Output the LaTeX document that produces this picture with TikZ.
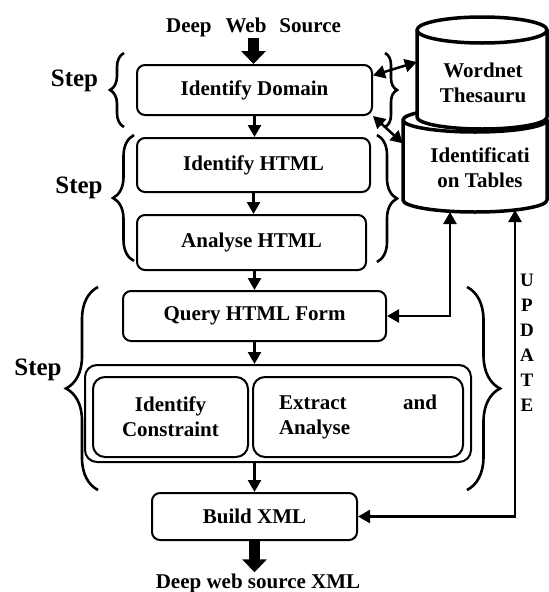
\documentclass[tikz,border=0pt]{standalone}
\usepackage{fontspec}
\setmainfont{Liberation Serif}
\usetikzlibrary{arrows.meta,decorations.pathreplacing,calc}
\begin{document}
\begin{tikzpicture}[x=1pt,y=-1pt,
  font=\bfseries\fontsize{21}{25}\selectfont,
  box/.style={draw, line width=2pt, rounded corners=8pt, align=center, inner sep=0pt},
  txt/.style={inner sep=1pt},
  arr/.style={line width=2.5pt, -{Triangle[width=13pt,length=12pt]}},
  darr/.style={line width=2.5pt, {Triangle[width=13pt,length=12pt]}-{Triangle[width=13pt,length=12pt]}},
  fat/.style={line width=11pt, -{Triangle[width=24pt,length=13pt]}},
  cyl/.style={line width=3.5pt, line join=round},
  curly/.style={decorate, decoration={brace, amplitude=#1}, line width=2.6pt},
  steplbl/.style={inner sep=1pt, font=\bfseries\fontsize{25}{28}\selectfont},
  hid/.style={inner sep=0pt}
]
\fill[white] (0,0) rectangle (549,592);
\useasboundingbox (0,0) rectangle (549,592);

% cylinders
\node[hid, minimum width=144pt, minimum height=80pt] (it) at (475,160) {};
\node[hid, minimum width=130pt, minimum height=87pt] (wn) at (482,73.5) {};
\draw[cyl, fill=white] (403,120) -- (403,200) arc[start angle=180,end angle=360,x radius=72pt,y radius=12pt] -- (547,120) arc[start angle=0,end angle=180,x radius=72pt,y radius=12pt] -- cycle;
\draw[cyl] (403,120) arc[start angle=180,end angle=360,x radius=72pt,y radius=12pt];
\draw[cyl, fill=white] (417,30) -- (417,117) arc[start angle=180,end angle=360,x radius=65pt,y radius=12pt] -- (547,30) arc[start angle=0,end angle=180,x radius=65pt,y radius=13pt] -- cycle;
\draw[cyl] (417,30) arc[start angle=180,end angle=360,x radius=65pt,y radius=13pt];
\node[txt, align=center] (wnt) at (483,82.5) {Wordnet\\Thesauru};
\node[txt, align=center] (itt) at (480,167.5) {Identificati\\on Tables};

% boxes
\node[txt] (src) at (253.5,27) {Deep\hspace{14pt}Web\hspace{13pt}Source};
\node[box, minimum width=235pt, minimum height=50pt] (dom) at (254.5,90) {Identify Domain};
\node[box, minimum width=233pt, minimum height=54pt] (html) at (253.5,165) {Identify HTML};
\node[box, minimum width=229pt, minimum height=55pt] (ana) at (251.5,242.5) {Analyse HTML};
\node[box, minimum width=263pt, minimum height=50pt] (qf) at (254.5,316) {Query HTML Form};
\node[box, rounded corners=12pt, minimum width=386pt, minimum height=97pt] (cont) at (278,413.5) {};
\node[box, rounded corners=12pt, minimum width=155pt, minimum height=80pt] (ic) at (170.5,417) {Identify\\Constraint};
\node[box, rounded corners=12pt, minimum width=210pt, minimum height=80pt, text width=158pt, align=left] (ea) at (358,417) {Extract\hfill and\\Analyse};
\node[box, minimum width=205pt, minimum height=47pt] (bx) at (254.5,516.5) {Build XML};
\node[txt] (out) at (258,583) {Deep web source XML};

% step labels
\node[steplbl] (s1) at (74.5,81) {Step};
\node[steplbl] (s2) at (79,188) {Step};
\node[steplbl] (s3) at (38,370) {Step};
\node[hid, font=\bfseries\fontsize{19}{25}\selectfont, align=center] (upd) at (527,342.5) {U\\P\\D\\A\\T\\E};

% braces
\draw[curly=14pt] (124,127) -- (124,53);
\draw[curly=21pt] (134,261) -- (134,135);
\draw[curly=32pt] (98,490) -- (98,287);
\draw[curly=12pt] (385,53) -- (385,127);
\draw[curly=20pt] (377,135) -- (377,262);
\draw[curly=33pt] (467,287) -- (467,490);

% connectors
\coordinate (t1) at (450,212);
\coordinate (t2) at (515,210);
\draw[fat] (src.south) -- (src.south |- dom.north);
\draw[arr] (dom.south) -- (dom.south |- html.north);
\draw[arr] (html.south) -- (html.south |- ana.north);
\draw[arr] (qf.north |- ana.south) -- (qf.north);
\draw[arr] (qf.south) -- (qf.south |- cont.north);
\draw[arr] (bx.north |- cont.south) -- (bx.north);
\draw[fat] (bx.south) -- (bx.south |- out.north);
\draw[darr] (dom.7) -- (wn.170);
\draw[darr] (dom.south east) -- (it.167);
\draw[darr] (qf.east) -| (t1);
\draw[darr] (bx.east) -| (t2);
\end{tikzpicture}
\end{document}
